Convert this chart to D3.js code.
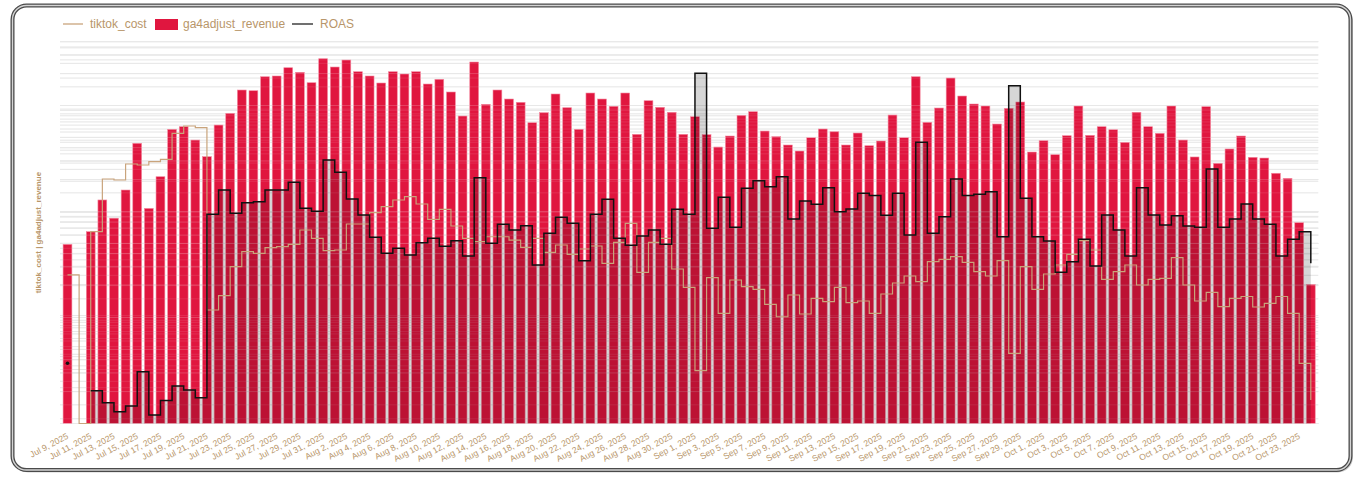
<!DOCTYPE html>
<html><head><meta charset="utf-8">
<script src="https://cdn.jsdelivr.net/npm/d3@7"></script>
<style>
html,body{margin:0;padding:0;background:#fff;}
svg{display:block;font-family:"Liberation Sans",Arial,Helvetica,sans-serif;}
</style></head>
<body><svg id="chart" width="1362" height="477"></svg>
<script>
// ---------- data ----------
const startDate = "2025-07-09";
const endDate   = "2025-10-24";

const ga4adjust_revenue = [
  98, null, 129, 257, 173, 319, 880, 214, 426, 1193,
  1262, 945, 658, 1309, 1689, 2801, 2758, 3738, 3797, 4546,
  4114, 3282, 5528, 4616, 5374, 4168, 3797, 3261, 4168, 3966,
  4168, 3190, 3534, 2682, 1592, 5146, 2052, 2801, 2303, 2144,
  1376, 1711, 2568, 1907, 1193, 2624, 2303, 1966, 2624, 1070,
  2220, 1923, 1726, 1070, 1568, 1061, 812, 1031, 1616, 1748,
  1149, 1016, 848, 744, 994, 1201, 1132, 848, 1100, 835,
  925, 1627, 994, 3738, 1388, 1894, 3634, 2458, 2066, 1978,
  1338, 1882, 2158, 728, 931, 687, 1038, 1978, 1047, 1262,
  1182, 899, 1726, 1262, 1093, 1978, 945, 654, 1949, 570,
  778, 1031, 649, 639, 459, 411, 157, 41
];

const tiktok_cost = [
  25.2, 0, 64.5, 202.6, 198.3, 280.6, 274.6, 295, 310.8, 546.6,
  640.7, 617.5, 11.77, 16.06, 30.15, 41.77, 40.34, 45.55, 46.55, 49.04,
  66.9, 55.87, 42.68, 43.34, 76.2, 76.2, 97.4, 111, 128.4, 137.9,
  117.7, 84.4, 104.9, 73, 55.87, 51.9, 57.8, 57.8, 53.8, 45.95,
  55.87, 41.22, 48.3, 39.47, 44.3, 47.27, 32.46, 51.2, 77.4, 26.7,
  51.2, 55.87, 28.67, 19.27, 3.148, 23.74, 10.95, 22.59, 19.53, 18.45,
  13.32, 10.17, 16.3, 10.79, 15.18, 14.1, 19.27, 13.79, 14.31, 10.95,
  16.66, 21.16, 24.63, 21.76, 33.6, 35.41, 37.46, 33.18, 27.05, 24.63,
  34.34, 4.596, 30.15, 18.45, 25.72, 31.28, 39.47, 53.03, 43.34, 22.93,
  27.05, 31.28, 20.26, 22.93, 23.43, 36.66, 20.26, 14.31, 17.29, 12.65,
  15.18, 15.78, 12.56, 13.61, 15.78, 10.95, 3.698, 1.666
];

const ROAS = [
  0.0345, null, 0.0187, 0.0143, 0.0117, 0.0133, 0.0286, 0.0109, 0.0150, 0.0208,
  0.0190, 0.0160, 0.958, 1.648, 0.979, 1.241, 1.269, 1.648, 1.648, 1.957,
  1.095, 1.024, 3.218, 2.446, 1.348, 0.943, 0.5735, 0.4014, 0.4487, 0.3865,
  0.5084, 0.5607, 0.4693, 0.5316, 0.3779, 2.168, 0.5016, 0.7664, 0.6749, 0.743,
  0.3092, 0.6269, 0.8959, 0.7837, 0.3402, 0.958, 1.339, 0.5607, 0.4798, 0.5904,
  0.6749, 0.4905, 1.071, 0.958, 22.27, 0.701, 1.400, 0.7164, 1.711, 2.028,
  1.773, 2.217, 0.8627, 1.289, 1.198, 1.734, 1.015, 1.078, 1.531, 1.452,
  0.9369, 1.531, 0.6037, 4.776, 0.6269, 0.9081, 2.106, 1.452, 1.497, 1.587,
  0.5812, 16.88, 1.369, 0.5812, 0.528, 0.2626, 0.3327, 0.5486, 0.3023, 0.943,
  0.6749, 0.3779, 1.734, 0.943, 0.7546, 0.9288, 0.738, 0.7164, 2.633, 0.7164,
  0.8627, 1.206, 0.8627, 0.7664, 0.3779, 0.5486, 0.6498, 0.3211
];

const revenueDomain = [2, 8000];
const costDomain = [1, 4000];
const roasDomain = [0.009, 45];

const legendItems = ["tiktok_cost", "ga4adjust_revenue", "ROAS"];
const yTitle = "tiktok_cost | ga4adjust_revenue";

// ---------- setup ----------
const parse = d3.timeParse("%Y-%m-%d");
const dates = d3.timeDay.range(parse(startDate), d3.timeDay.offset(parse(endDate), 1));
const fmt = d3.timeFormat("%b %-d, %Y");
const rows = dates.map((d, i) => ({date: d, key: fmt(d), i,
  rev: ga4adjust_revenue[i], cost: tiktok_cost[i], roas: ROAS[i]}));

const svg = d3.select("#chart");
const P = {left: 60, right: 1318.3, top: 41.7, bottom: 423.5};
const TAN = "#c9a47c", TANTXT = "#b8966a", RED = "#e0163f";

// frame
const frame = svg.append("g");
frame.append("rect").attr("x", 14).attr("y", 7).attr("width", 1338).attr("height", 464.5)
  .attr("rx", 14).attr("fill", "none").attr("stroke", "rgba(0,0,0,0.18)").attr("stroke-width", 2);
frame.append("rect").attr("x", 12.5).attr("y", 5.5).attr("width", 1338).attr("height", 464.5)
  .attr("rx", 14).attr("fill", "#fff").attr("stroke", "#4a4a4a").attr("stroke-width", 4);
frame.append("rect").attr("x", 12.5).attr("y", 5.5).attr("width", 1338).attr("height", 464.5)
  .attr("rx", 14).attr("fill", "none").attr("stroke", "#d4d4d4").attr("stroke-width", 1.4);

const x = d3.scaleBand().domain(rows.map(r => r.key)).range([P.left, P.right])
  .paddingInner(0.24).paddingOuter(0.265);
const cx = r => x(r.key) + x.bandwidth() / 2;

const yRev = d3.scaleLog().domain(revenueDomain).range([P.bottom, P.top]).clamp(true);
const yCost = d3.scaleLog().domain(costDomain).range([P.bottom, P.top]).clamp(true);
const yRoas = d3.scaleLog().domain(roasDomain).range([P.bottom, P.top]).clamp(true);

// grid
function drawGrid(g, color, width, opacity) {
  [yRev, yCost, yRoas].forEach(s => {
    g.selectAll(null).data(s.ticks()).enter().append("line")
      .attr("x1", P.left).attr("x2", P.right)
      .attr("y1", d => s(d)).attr("y2", d => s(d))
      .attr("stroke", color).attr("stroke-width", width).attr("stroke-opacity", opacity);
  });
}
drawGrid(svg.append("g"), "#e4e4e4", 1, 1);

// bars
svg.append("g").selectAll("rect").data(rows.filter(r => r.rev != null && r.rev > 0)).enter()
  .append("rect")
  .attr("x", r => x(r.key)).attr("width", x.bandwidth())
  .attr("y", r => yRev(r.rev)).attr("height", r => P.bottom - yRev(r.rev))
  .attr("fill", RED).attr("stroke", "#f48aa0").attr("stroke-width", 0.6);

// grid overlay through bars
drawGrid(svg.append("g"), "#ffffff", 1, 0.1);

// ROAS area
const defined = r => r.roas != null;
const area = d3.area().defined(defined).curve(d3.curveStepAfter)
  .x(cx).y0(P.bottom).y1(r => yRoas(r.roas));
svg.append("path").datum(rows).attr("d", area)
  .attr("fill", "#000").attr("fill-opacity", 0.16);

// tiktok_cost line
const costLine = d3.line().curve(d3.curveStepAfter).x(cx).y(r => yCost(r.cost));
svg.append("path").datum(rows).attr("d", costLine)
  .attr("fill", "none").attr("stroke", TAN).attr("stroke-width", 1.2);

// ROAS line
const roasLine = d3.line().defined(defined).curve(d3.curveStepAfter).x(cx).y(r => yRoas(r.roas));
svg.append("path").datum(rows).attr("d", roasLine)
  .attr("fill", "none").attr("stroke", "#111").attr("stroke-width", 1.5);
// isolated ROAS points
const iso = rows.filter((r, i) => defined(r) && !(rows[i - 1] && defined(rows[i - 1])) && !(rows[i + 1] && defined(rows[i + 1])));
svg.append("g").selectAll("circle").data(iso).enter().append("circle")
  .attr("cx", cx).attr("cy", r => yRoas(r.roas)).attr("r", 1.8).attr("fill", "#111");

// x labels
svg.append("g").selectAll("text").data(rows.filter(r => r.i % 2 === 0)).enter().append("text")
  .attr("transform", r => `translate(${cx(r) + 1.5},438) rotate(-28)`)
  .attr("text-anchor", "end").attr("font-size", 8.6).attr("fill", TANTXT)
  .text(r => r.key);

// y title
svg.append("text").attr("transform", `translate(41,${(P.top + P.bottom) / 2}) rotate(-90)`)
  .attr("text-anchor", "middle").attr("font-size", 8).attr("font-weight", "bold")
  .attr("fill", TANTXT).text(yTitle);

// legend
const lg = svg.append("g").attr("font-size", 12).attr("fill", TANTXT);
lg.append("line").attr("x1", 63).attr("x2", 83).attr("y1", 24).attr("y2", 24)
  .attr("stroke", TAN).attr("stroke-width", 1.3);
lg.append("text").attr("x", 90).attr("y", 28).text(legendItems[0]);
lg.append("rect").attr("x", 155).attr("y", 19).attr("width", 23).attr("height", 11).attr("fill", RED);
lg.append("text").attr("x", 183).attr("y", 28).text(legendItems[1]);
lg.append("line").attr("x1", 292).attr("x2", 313).attr("y1", 24).attr("y2", 24)
  .attr("stroke", "#222").attr("stroke-width", 1.3);
lg.append("text").attr("x", 320).attr("y", 28).text(legendItems[2]);
</script>
</body></html>
